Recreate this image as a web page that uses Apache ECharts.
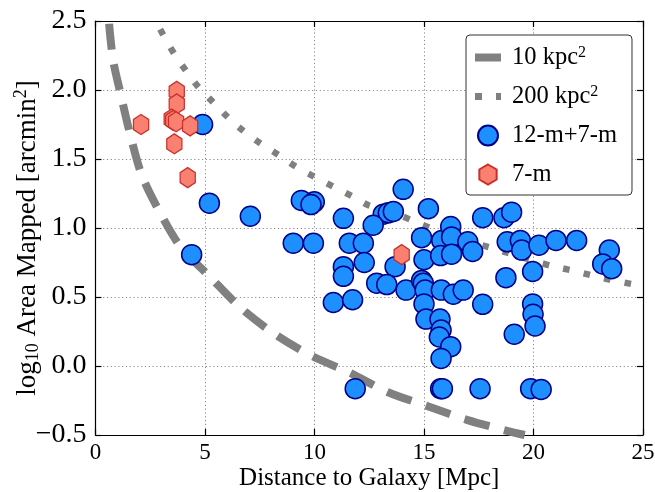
<!DOCTYPE html>
<html>
<head>
<meta charset="utf-8">
<script src="https://cdn.jsdelivr.net/npm/echarts@6/dist/echarts.min.js"></script>
<style>html,body{margin:0;padding:0;background:#fff}#c{width:655px;height:492px}</style>
</head>
<body>
<div id="c"></div>
<script>
// Curve read-offs (distance Mpc, log10 area)
var dashX = [0.62,0.80,1.12,1.58,2.12,2.95,3.90,5.14,6.64,8.20,9.79,11.62,13.36,15.14,16.96,18.79,19.60];
var dashY = [2.48,2.22,1.99,1.68,1.38,1.11,0.86,0.66,0.42,0.23,0.08,-0.05,-0.19,-0.29,-0.39,-0.47,-0.50];
var dotX = [2.95,3.60,4.13,4.71,5.38,6.06,6.78,7.56,8.35,9.19,10.02,10.86,11.77,12.46,13.53,14.44,15.35,16.34,18.01,18.93,19.92,20.90,21.74,22.66,23.62,24.56,25.0];
var dotY = [2.44,2.26,2.14,2.02,1.91,1.80,1.70,1.61,1.53,1.44,1.37,1.30,1.225,1.165,1.116,1.056,0.996,0.935,0.858,0.815,0.766,0.722,0.693,0.657,0.621,0.592,0.578];

// 12-m+7-m points
var blueX = [4.89,5.20,7.07,4.39,9.40,9.99,9.84,9.03,9.95,11.32,14.05,13.14,13.37,13.60,12.68,15.20,11.59,12.23,11.32,11.32,12.27,13.68,12.84,13.30,14.18,10.86,11.74,14.89,15.00,14.89,14.97,15.05,15.00,15.09,15.73,15.78,15.70,16.22,15.78,15.79,16.34,16.79,15.81,16.22,16.26,15.76,16.26,17.00,17.22,17.68,18.65,19.00,17.68,18.74,18.80,19.40,19.46,19.96,20.25,21.03,21.97,23.46,23.16,23.57,19.96,19.98,20.07,19.12,11.86,15.76,15.84,17.56,19.87,20.35];
var blueY = [1.75,1.18,1.085,0.807,1.20,1.19,1.17,0.89,0.89,1.07,1.28,1.10,1.11,1.12,1.02,1.14,0.89,0.89,0.72,0.65,0.75,0.72,0.60,0.59,0.55,0.46,0.48,0.93,0.77,0.62,0.60,0.55,0.45,0.34,0.34,0.26,0.21,0.14,0.055,0.55,0.52,0.55,0.91,1.01,0.935,0.80,0.81,0.90,0.83,1.075,1.075,1.115,0.447,0.64,0.90,0.91,0.84,0.685,0.875,0.91,0.91,0.84,0.74,0.705,0.45,0.375,0.29,0.23,-0.164,-0.164,-0.164,-0.164,-0.164,-0.17];

// 7-m points
var redX = [2.08,3.71,3.71,3.48,3.55,3.68,4.32,3.60,4.21,13.98];
var redY = [1.75,1.99,1.90,1.79,1.78,1.77,1.74,1.61,1.365,0.807];

var xTicks = [0,5,10,15,20,25];
var yTicks = [-0.5,0.0,0.5,1.0,1.5,2.0,2.5];

function pairs(xs, ys){ return xs.map(function(x,i){ return [x, ys[i]]; }); }

var FONT = '"Liberation Serif", "DejaVu Serif", serif';
var HEX = 'path://M0,-10 L8.66,-5 L8.66,5 L0,10 L-8.66,5 L-8.66,-5 Z';
var yRich = {
  a: {fontFamily: FONT, fontSize: 27, color: '#000', lineHeight: 30},
  s: {fontFamily: FONT, fontSize: 18, color: '#000', lineHeight: 23, verticalAlign: 'bottom'},
  p: {fontFamily: FONT, fontSize: 18, color: '#000', lineHeight: 19, verticalAlign: 'top'}
};
var legRich = {
  a: {fontFamily: FONT, fontSize: 24.5, color: '#000', lineHeight: 25},
  p: {fontFamily: FONT, fontSize: 16, color: '#000', lineHeight: 16, verticalAlign: 'top'}
};

var chart = echarts.init(document.getElementById('c'), null, {renderer: 'canvas'});
var gridLine = {show: true, lineStyle: {color: '#8a8a8a', width: 1, type: [1.2, 2.6]}};
var axisLine = {show: true, onZero: false, lineStyle: {color: '#000', width: 1.2}};
var tick = {show: true, inside: true, length: 6, lineStyle: {color: '#000', width: 1.2}};

chart.setOption({
  animation: false,
  backgroundColor: '#fff',
  grid: {left: 95.5, right: 12, top: 21, bottom: 57, containLabel: false, outerBoundsMode: 'none'},
  xAxis: [{
    type: 'value', min: 0, max: 25, interval: 5, position: 'bottom',
    axisLine: axisLine, axisTick: tick, splitLine: gridLine,
    axisLabel: {fontFamily: FONT, fontSize: 23, color: '#000', margin: 6,
      formatter: function(v){ return xTicks.indexOf(v) >= 0 ? String(v) : ''; }},
    name: 'Distance to Galaxy [Mpc]', nameLocation: 'middle', nameGap: 31, nameMoveOverlap: false,
    nameTextStyle: {fontFamily: FONT, fontSize: 25, color: '#000'}
  }, {
    type: 'value', min: 0, max: 25, interval: 5, position: 'top',
    axisLine: axisLine, axisTick: tick, splitLine: {show: false}, axisLabel: {show: false}
  }],
  yAxis: [{
    type: 'value', min: -0.5, max: 2.5, interval: 0.5, position: 'left',
    axisLine: axisLine, axisTick: tick, splitLine: gridLine,
    axisLabel: {fontFamily: FONT, fontSize: 28, color: '#000', margin: 9,
      formatter: function(v){ return (v < 0 ? '\u2212' : '') + Math.abs(v).toFixed(1); }},
    name: '{a|log}{s|10}{a| Area Mapped [arcmin}{p|2}{a|]}', nameLocation: 'middle', nameGap: 53, nameRotate: 90,
    nameMoveOverlap: false,
    nameTextStyle: {rich: yRich, padding: [0, 20, 0, 0]}
  }, {
    type: 'value', min: -0.5, max: 2.5, interval: 0.5, position: 'right',
    axisLine: axisLine, axisTick: tick, splitLine: {show: false}, axisLabel: {show: false}
  }],
  legend: {
    orient: 'vertical', left: 466, top: 35,
    padding: [10, 15, 8, 9], itemGap: 14, itemWidth: 26, itemHeight: 20,
    backgroundColor: '#fff', borderColor: '#333', borderWidth: 1, borderRadius: 4,
    data: [
      {name: '10 kpc\u00b2', icon: 'path://M0,0 H26 V8 H0 Z'},
      {name: '200 kpc\u00b2', icon: 'path://M0,0 H7 V7 H0 Z M21,0 H26 V7 H21 Z'},
      {name: '12-m+7-m'},
      {name: '7-m'}
    ],
    formatter: function(name){
      return '{a|' + name.replace('\u00b2', '}{p|2}{a|') + '}';
    },
    textStyle: {padding: [0,0,0,6], rich: legRich}
  },
  series: [{
    name: '10 kpc\u00b2', type: 'line', data: pairs(dashX, dashY), smooth: 0.3,
    symbol: 'none', z: 2, clip: true,
    lineStyle: {color: '#808080', width: 8, type: [26, 15], cap: 'butt'},
    itemStyle: {color: '#808080'}
  }, {
    name: '200 kpc\u00b2', type: 'line', data: pairs(dotX, dotY), smooth: 0.3,
    symbol: 'none', z: 2, clip: true,
    lineStyle: {color: '#808080', width: 6.5, type: [6.5, 14.5], cap: 'butt'},
    itemStyle: {color: '#808080'}
  }, {
    name: '12-m+7-m', type: 'scatter', data: pairs(blueX, blueY), z: 3,
    symbol: 'circle', symbolSize: 20,
    itemStyle: {color: '#1e8fff', borderColor: '#000088', borderWidth: 1.5, opacity: 1}
  }, {
    name: '7-m', type: 'scatter', data: pairs(redX, redY), z: 4,
    symbol: HEX, symbolSize: [17.5, 20], symbolKeepAspect: true,
    itemStyle: {color: '#fa8072', borderColor: '#c8302a', borderWidth: 1.3, opacity: 1}
  }]
});
</script>
</body>
</html>
